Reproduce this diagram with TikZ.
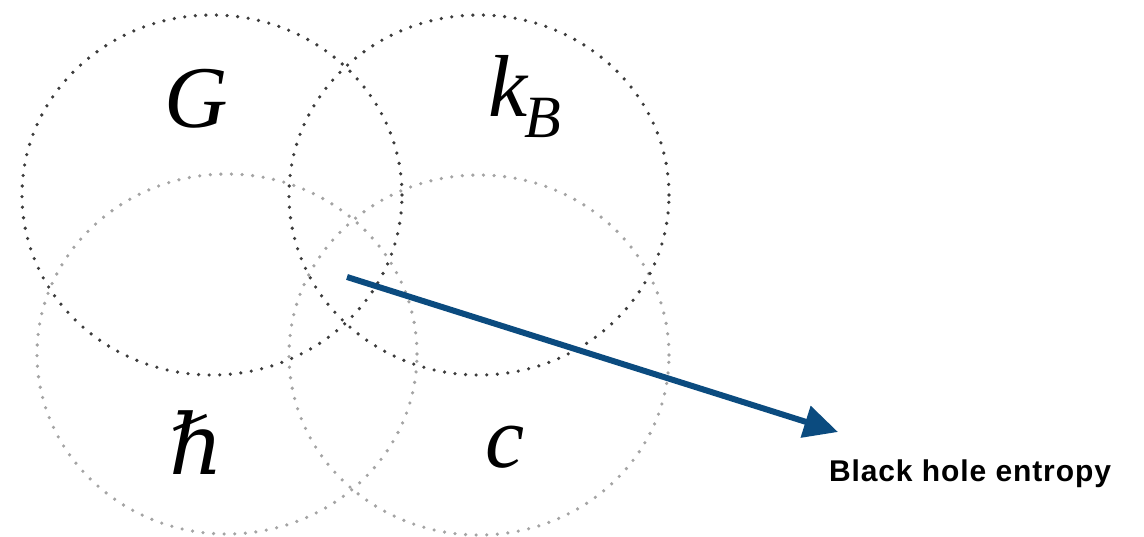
\documentclass[tikz,border=0pt]{standalone}
\usepackage{fontspec}
\setmainfont{Liberation Serif}
\newfontfamily\tagfont[LetterSpace=3]{Liberation Sans}
\newfontfamily\planckfont{DejaVu Serif}
\usetikzlibrary{arrows.meta,positioning,shapes.geometric}
\definecolor{Ink}{HTML}{000000}
\definecolor{Deep}{HTML}{0B4B7F}
\definecolor{darkring}{HTML}{3C3C3C}
\definecolor{palering}{HTML}{A4A4A4}
\tikzset{
  ring/.style={ellipse,minimum width=380pt,minimum height=360pt,inner sep=0pt,draw=darkring,line width=3.6pt,line cap=round,dash pattern=on 0pt off 10.6pt},
  faint/.style={ring,draw=palering},
  sym/.style={font=\fontsize{88}{88}\selectfont\itshape,text=Ink,inner sep=0pt,anchor=base},
  flow/.style={draw=Deep,line width=6pt,-{Triangle[length=34pt,width=32pt]}},
  tag/.style={font=\tagfont\bfseries\fontsize{30}{32}\selectfont,text=Ink,inner sep=0pt},
}
\begin{document}
\begin{tikzpicture}[x=1pt,y=-1pt]
\path[use as bounding box] (0,0) rectangle (1144,537);
% -rings-
\node[faint] (hring) at (227,354) {};
\node[faint] (cring) at (479,355) {};
\node[ring] (Gring) at (212,195) {};
\node[ring] (kring) at (479,195) {};
% -constants-
\node[sym] (G) at (196,128) {G};
\node[sym,anchor=base west] (kB) at (488,117) {k\kern-3pt\raisebox{-21pt}{\fontsize{60}{60}\selectfont B}};
\node[sym] (hb) at (197,475) {\planckfont\fontsize{84}{84}\selectfont\itshape ℏ};
\node[sym] (c) at (505,467) {c};
% -arrow-
\coordinate (src) at (347,277);
\coordinate (dst) at (838,432);
\draw[flow] (src) -- (dst);
\node[tag] (bh) at (970,474) {Black hole entropy};
\end{tikzpicture}
\end{document}
